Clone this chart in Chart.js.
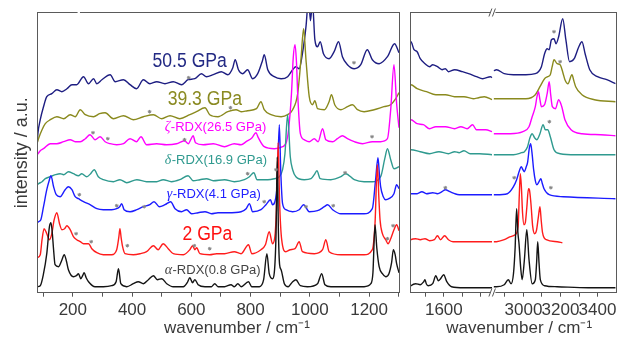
<!DOCTYPE html>
<html><head><meta charset="utf-8">
<script src="https://cdn.jsdelivr.net/npm/chart.js@4.4.1/dist/chart.umd.min.js"></script>
<style>
html,body{margin:0;padding:0;background:#fff;width:630px;height:339px;overflow:hidden;}
#wrap{position:relative;width:630px;height:339px;background:#fff;}
canvas{position:absolute;top:0;}
#cL{left:0;} #cR{left:405px;}
</style></head><body>
<div id="wrap">
<canvas id="cL" width="405" height="339"></canvas>
<canvas id="cR" width="225" height="339"></canvas>
</div>
<script>
// ---------- tick labels ----------
const tickLabelsLow  = [200, 400, 600, 800, 1000, 1200];
const tickLabelsMid  = [1600];
const tickLabelsHigh = [3000, 3200, 3400];

// ---------- spectra, low-wavenumber panel: [wavenumber, stacked intensity] ----------
const alphaLow = [[80,6],[90,7],[101,19],[112,39],[121,66],[126,70],[130,62],[135,43],[140,28],[152,26],[162,32],[171,38],[178,32],[185,23],[202,16],[212,17],[219,19],[227,14],[233,17],[238,20],[245,15],[253,11],[275,6],[303,6],[331,7],[346,11],[354,24],[362,9],[382,6],[404,9],[421,11],[438,9],[455,13],[472,17],[485,13],[500,14],[517,9],[539,6],[573,6],[586,10],[595,15],[604,10],[612,13],[623,8],[646,6],[668,6],[679,9],[690,6],[712,6],[734,8],[745,6],[757,9],[768,6],[793,11],[804,6],[830,6],[844,13],[855,39],[863,19],[874,14],[880,20],[886,60],[890,136],[894,60],[898,28],[903,23],[914,9],[927,6],[942,11],[953,13],[968,7],[992,6],[1026,9],[1040,19],[1051,8],[1071,6],[1127,6],[1183,6],[1206,9],[1213,20],[1220,68],[1226,45],[1234,26],[1245,19],[1256,16],[1267,19],[1276,30],[1282,43],[1288,38],[1293,29],[1301,20]];
const redLow = [[80,35],[90,38],[96,53],[103,64],[112,59],[121,53],[129,59],[137,73],[146,80],[155,69],[163,63],[172,64],[180,67],[191,63],[202,56],[213,53],[225,51],[236,49],[253,49],[264,44],[281,40],[303,38],[331,38],[348,43],[355,55],[359,64],[363,55],[368,46],[376,39],[404,38],[427,39],[449,41],[472,47],[488,43],[505,49],[522,44],[539,39],[573,38],[595,43],[604,47],[612,43],[618,45],[629,39],[662,38],[685,39],[712,39],[745,41],[768,39],[793,48],[804,39],[835,43],[850,48],[863,61],[874,49],[882,56],[888,90],[893,150],[898,90],[905,53],[919,41],[934,43],[950,44],[964,51],[975,41],[1015,39],[1043,43],[1054,53],[1065,41],[1105,38],[1183,38],[1211,43],[1220,69],[1228,128],[1233,95],[1237,73],[1245,59],[1256,53],[1264,49],[1273,54],[1284,63],[1293,68],[1301,62]];
const gammaLow = [[80,70],[84,71],[92,73],[101,86],[112,103],[120,112],[126,117],[135,106],[144,98],[157,96],[174,103],[185,106],[197,103],[208,96],[219,94],[236,91],[258,88],[281,84],[303,83],[331,83],[348,84],[358,86],[365,89],[373,83],[393,81],[416,83],[438,86],[460,88],[474,91],[492,86],[511,88],[530,91],[545,84],[567,81],[584,83],[601,79],[623,80],[646,81],[668,79],[690,80],[723,80],[768,81],[785,84],[796,89],[807,81],[835,83],[852,88],[867,93],[874,88],[882,91],[890,110],[897,168],[902,120],[908,89],[919,83],[942,81],[964,83],[979,88],[998,81],[1026,82],[1049,86],[1060,88],[1077,83],[1105,79],[1183,79],[1211,84],[1222,113],[1230,135],[1235,118],[1239,106],[1248,96],[1256,93],[1267,94],[1284,99],[1293,108],[1301,104]];
const deltaLow = [[80,108],[84,109],[96,111],[107,114],[124,116],[141,118],[157,119],[169,118],[185,121],[202,119],[219,117],[230,119],[247,116],[260,119],[272,123],[286,116],[303,113],[337,111],[359,113],[382,110],[416,113],[449,111],[483,111],[505,113],[533,111],[561,113],[589,117],[606,112],[629,113],[651,114],[674,112],[712,113],[745,111],[779,113],[796,116],[811,120],[822,113],[858,113],[880,114],[897,116],[908,123],[916,139],[925,178],[934,136],[942,123],[953,116],[981,113],[1004,114],[1015,118],[1024,122],[1035,114],[1071,113],[1105,116],[1121,119],[1150,113],[1183,111],[1211,111],[1239,116],[1253,134],[1262,144],[1273,133],[1284,124],[1301,126]];
const zetaLow = [[80,138],[90,142],[101,144],[124,149],[146,149],[169,151],[191,153],[208,151],[225,151],[242,154],[258,158],[275,153],[292,156],[309,151],[326,149],[348,148],[371,149],[393,154],[415,151],[430,156],[449,148],[483,149],[516,148],[550,149],[577,152],[590,149],[598,153],[606,157],[614,150],[640,148],[674,149],[712,146],[745,149],[768,148],[785,151],[805,155],[818,160],[826,155],[846,146],[880,144],[908,146],[925,156],[938,199],[944,235],[950,248],[955,230],[959,199],[968,159],[981,153],[998,151],[1015,154],[1028,151],[1043,164],[1054,153],[1077,151],[1093,154],[1110,157],[1127,154],[1150,151],[1178,149],[1211,151],[1239,151],[1262,154],[1273,183],[1284,228],[1293,189],[1301,165]];
const p39Low = [[80,150],[84,154],[96,163],[107,169],[124,173],[146,176],[169,174],[191,178],[208,176],[225,183],[242,178],[270,176],[290,179],[309,180],[337,174],[371,177],[404,173],[438,176],[472,178],[500,174],[528,177],[561,174],[595,178],[617,181],[646,185],[662,178],[690,176],[723,181],[751,183],[768,181],[790,182],[820,184],[835,191],[846,183],[869,178],[903,176],[925,178],[942,183],[959,199],[970,233],[979,264],[987,233],[998,196],[1009,188],[1017,192],[1026,184],[1049,183],[1065,191],[1073,198],[1084,188],[1105,183],[1127,186],[1144,188],[1161,183],[1183,181],[1217,183],[1250,186],[1273,188],[1290,194],[1301,200]];
const p50Low = [[80,150],[82,159],[90,173],[101,186],[112,196],[129,199],[146,203],[163,201],[180,204],[197,208],[213,208],[236,216],[253,209],[270,214],[281,209],[298,213],[326,218],[343,211],[371,213],[393,208],[415,204],[438,213],[460,209],[483,211],[511,209],[539,211],[567,208],[589,213],[612,214],[634,219],[651,216],[674,218],[701,221],[723,218],[740,225],[748,233],[759,223],[773,219],[790,223],[807,214],[824,219],[840,232],[846,238],[858,223],[880,216],[903,214],[925,216],[942,223],[953,226],[964,224],[975,239],[987,266],[996,295],[1002,272],[1009,290],[1017,253],[1026,246],[1035,251],[1046,239],[1065,234],[1082,241],[1097,251],[1110,236],[1127,228],[1150,224],[1172,228],[1194,243],[1211,233],[1234,229],[1262,236],[1286,249],[1301,240]];

// ---------- spectra, right panel (two segments of a broken axis) ----------
const alphaMid = [[1415,6],[1420,7],[1446,9],[1471,8],[1490,11],[1497,13],[1504,9],[1514,7],[1539,9],[1556,17],[1570,12],[1582,14],[1599,18],[1616,11],[1642,6],[1710,5],[1863,5]];
const alphaHigh = [[2840,6],[2854,6],[2896,8],[2918,13],[2933,9],[2946,19],[2955,45],[2963,84],[2970,60],[2976,49],[2985,25],[2993,13],[3005,33],[3018,63],[3030,33],[3047,9],[3064,13],[3071,30],[3077,51],[3084,30],[3091,13],[3114,7],[3182,6],[3350,5],[3498,5]];
const redMid = [[1415,52],[1420,53],[1446,54],[1471,53],[1497,54],[1522,52],[1548,53],[1565,57],[1582,53],[1604,57],[1625,53],[1650,51],[1710,51],[1863,51]];
const redHigh = [[2840,51],[2854,51],[2896,53],[2930,56],[2955,58],[2971,66],[2978,100],[2983,119],[2989,105],[2995,80],[3003,68],[3010,70],[3018,85],[3027,104],[3032,103],[3040,90],[3050,66],[3060,59],[3070,62],[3080,75],[3089,86],[3096,72],[3103,60],[3123,53],[3182,51],[3210,50]];
const gammaMid = [[1415,99],[1420,99],[1454,99],[1480,101],[1505,99],[1539,100],[1565,99],[1590,101],[1608,103],[1633,101],[1659,99],[1684,98],[1744,98],[1812,98],[1863,98]];
const gammaHigh = [[2840,98],[2854,98],[2913,99],[2946,106],[2963,113],[2978,122],[2988,126],[2997,123],[3005,121],[3015,126],[3022,130],[3032,145],[3039,149],[3046,140],[3055,123],[3064,112],[3072,108],[3084,111],[3094,114],[3102,109],[3111,104],[3139,98],[3215,96],[3498,94]];
const deltaMid = [[1415,143],[1420,143],[1471,141],[1522,139],[1573,141],[1625,139],[1659,141],[1684,140],[1710,142],[1744,139],[1795,139],[1863,138]];
const deltaHigh = [[2840,138],[2854,138],[2946,138],[2990,140],[3005,141],[3022,146],[3035,155],[3047,159],[3060,155],[3072,153],[3089,159],[3106,168],[3118,163],[3131,163],[3145,156],[3165,143],[3198,139],[3282,138],[3498,138]];
const zetaMid = [[1415,173],[1420,173],[1454,169],[1488,168],[1522,164],[1556,166],[1608,166],[1659,164],[1693,166],[1727,164],[1757,168],[1778,163],[1829,163],[1863,161]];
const zetaHigh = [[2840,159],[2854,159],[2929,159],[2997,161],[3030,166],[3047,176],[3064,186],[3073,196],[3081,201],[3089,193],[3097,186],[3114,188],[3128,199],[3139,211],[3147,198],[3156,186],[3173,184],[3190,193],[3207,186],[3224,173],[3257,163],[3316,159],[3417,158],[3498,157]];
const p39Mid = [[1415,208],[1420,208],[1454,204],[1505,201],[1556,198],[1608,198],[1659,196],[1710,196],[1761,194],[1790,195],[1821,196],[1863,193]];
const p39High = [[2840,194],[2854,194],[2929,194],[3013,194],[3064,198],[3089,206],[3114,214],[3131,216],[3145,218],[3155,226],[3165,233],[3182,229],[3198,228],[3213,220],[3224,213],[3240,209],[3262,218],[3272,212],[3282,206],[3316,198],[3383,193],[3498,191]];
const p50Mid = [[1415,251],[1420,251],[1437,243],[1454,241],[1471,234],[1497,229],[1522,226],[1539,228],[1565,226],[1590,223],[1608,224],[1625,221],[1659,223],[1701,221],[1735,219],[1778,216],[1812,214],[1855,216],[1863,215]];
const p50High = [[2840,222],[2854,223],[2896,219],[2946,218],[3013,218],[3064,219],[3097,226],[3114,239],[3128,244],[3139,243],[3151,253],[3165,254],[3176,249],[3190,256],[3212,274],[3229,253],[3249,231],[3274,234],[3299,246],[3316,251],[3333,239],[3358,223],[3400,216],[3450,213],[3498,209]];

// ---------- asterisk markers ----------
const starsLow = [[591,215],[1149,230],[459,181],[732,185],[268,160],[318,154],[577,153],[1210,156],[790,119],[886,123],[1119,120],[222,98],[348,87],[441,86],[846,91],[987,86],[1079,87],[211,59],[262,51],[384,47],[610,47],[662,44],[1262,54],[1281,67]];
const starsMid = [[1608,105]];
const starsHigh = [[3165,261],[3198,231],[3140,171],[2950,115],[3148,105]];

// ---------- styling ----------
const C = {p50:'#1e1e82', p39:'#8a8a1e', zeta:'#ff00ff', delta:'#2f9a8f', gamma:'#1c1cff', red:'#ff1c1c', alpha:'#141414'};
const FONT = '"Liberation Sans", Arial, Helvetica, sans-serif';
const TXT = '#3a3a3a';

const seriesLabels = [
  {greek:'', text:'50.5 GPa', color:'#232a84', at:[469,226], size:20, sx:0.88},
  {greek:'', text:'39.3 GPa', color:'#8a8a22', at:[520,188], size:20, sx:0.88},
  {greek:'ζ', text:'-RDX(26.5 GPa)', color:'#ff00ff', at:[510,162], size:13, sx:1},
  {greek:'δ', text:'-RDX(16.9 GPa)', color:'#2f9a8f', at:[510,129], size:13, sx:1},
  {greek:'γ', text:'-RDX(4.1 GPa)', color:'#2020ff', at:[517,95], size:13, sx:1},
  {greek:'', text:'2 GPa', color:'#ff1010', at:[570,53], size:20, sx:0.88},
  {greek:'α', text:'-RDX(0.8 GPa)', color:'#444444', at:[510,19], size:13, sx:1}
];

function line(data, color, xAxisID) {
  return {data: data.map(p => ({x:p[0], y:p[1]})), borderColor: color, backgroundColor: color,
    borderWidth: 1.4, pointRadius: 0, fill: false, cubicInterpolationMode: 'monotone', xAxisID, yAxisID: 'y'};
}
function stars(data, xAxisID) {
  return {type:'scatter', data: data.map(p => ({x:p[0], y:p[1]})), pointStyle:'star', pointRadius:1.8,
    borderColor:'#858585', backgroundColor:'#858585', borderWidth:1, showLine:false, xAxisID, yAxisID:'y'};
}
function xTicks(labels) {
  return {stepSize:100, includeBounds:false, autoSkip:false, maxRotation:0, minRotation:0, padding:3,
    color:TXT, font:{size:17, family:FONT}, callback: v => labels.includes(v) ? String(v) : ''};
}
const gridTicks = {display:true, drawOnChartArea:false, drawTicks:true, tickLength:4, color:'#555', lineWidth:1};

function frameRect(ctx, a) {
  const L = Math.round(a.left) + 0.5, R = Math.round(a.right) + 0.5;
  const T = Math.floor(a.top) + 0.5, B = Math.floor(a.bottom) + 0.5;
  ctx.save(); ctx.strokeStyle = '#5a5a5a'; ctx.lineWidth = 1;
  ctx.strokeRect(L, T, R - L, B - T); ctx.restore();
  return {L, R, T, B};
}

const frameLeft = {id:'frameLeft', afterDraw(chart) {
  const {ctx, chartArea:a, scales:{x}} = chart;
  const f = frameRect(ctx, a);
  const g0 = x.getPixelForValue(216), g1 = x.getPixelForValue(224);
  ctx.save(); ctx.fillStyle = '#fff'; ctx.fillRect(g0, f.T - 1.5, g1 - g0, 3); ctx.restore();
}};

const labelPlugin = {id:'seriesLabels', afterDatasetsDraw(chart) {
  const {ctx, scales:{x, y}} = chart;
  seriesLabels.forEach(l => {
    const px = x.getPixelForValue(l.at[0]), py = y.getPixelForValue(l.at[1]);
    ctx.save(); ctx.translate(px, py); ctx.scale(l.sx, 1);
    ctx.fillStyle = l.color; ctx.textBaseline = 'alphabetic'; ctx.textAlign = 'left';
    let cx = 0;
    if (l.greek) {
      ctx.font = 'italic ' + (l.size + 1) + 'px "Liberation Serif", "DejaVu Serif", serif';
      ctx.fillText(l.greek, 0, 0); cx = ctx.measureText(l.greek).width + 0.5;
    }
    ctx.font = l.size + 'px ' + FONT;
    ctx.fillText(l.text, cx, 0);
    ctx.restore();
  });
}};

const frameRight = {id:'frameRight', afterDraw(chart) {
  const {ctx, chartArea:a, scales:{x1}} = chart;
  const f = frameRect(ctx, a);
  const bx = x1.right;
  ctx.save();
  [f.T, f.B].forEach(yy => {
    ctx.fillStyle = '#fff'; ctx.fillRect(bx - 2.5, yy - 1.5, 5, 3);
    ctx.strokeStyle = '#555'; ctx.lineWidth = 1;
    ctx.beginPath();
    ctx.moveTo(bx - 4, yy + 4); ctx.lineTo(bx - 1, yy - 4);
    ctx.moveTo(bx - 0.5, yy + 4); ctx.lineTo(bx + 2.5, yy - 4);
    ctx.stroke();
  });
  ctx.restore();
}};

Chart.defaults.font.family = FONT;

new Chart(document.getElementById('cL'), {
  type: 'line',
  data: {datasets: [
    stars(starsLow, 'x'),
    line(alphaLow, C.alpha, 'x'), line(redLow, C.red, 'x'), line(gammaLow, C.gamma, 'x'),
    line(deltaLow, C.delta, 'x'), line(zetaLow, C.zeta, 'x'), line(p39Low, C.p39, 'x'), line(p50Low, C.p50, 'x')
  ]},
  options: {
    responsive: false, animation: false, events: [],
    layout: {padding: {top: 12.7, right: 6, left: 0, bottom: 0}},
    plugins: {legend: {display: false}, tooltip: {enabled: false}},
    scales: {
      x: {type: 'linear', position: 'bottom', min: 79, max: 1301,
        afterFit: s => { s.height = 46.3; },
        grid: gridTicks, border: {display: false}, ticks: xTicks(tickLabelsLow),
        title: {display: true, text: '        wavenumber / cm\u207B\u00B9', color: TXT, font: {size: 17, family: FONT}, padding: {top: 0, bottom: 0}}},
      y: {type: 'linear', min: 0, max: 280,
        afterFit: s => { s.width = 37; },
        ticks: {display: false}, grid: {display: false}, border: {display: false},
        title: {display: true, text: 'intensity / a.u.', color: TXT, font: {size: 18, family: FONT}, padding: {top: 11, bottom: 0}}}
    }
  },
  plugins: [labelPlugin, frameLeft]
});

new Chart(document.getElementById('cR'), {
  type: 'line',
  data: {datasets: [
    stars(starsMid, 'x1'), stars(starsHigh, 'x2'),
    line(alphaMid, C.alpha, 'x1'), line(alphaHigh, C.alpha, 'x2'),
    line(redMid, C.red, 'x1'), line(redHigh, C.red, 'x2'),
    line(gammaMid, C.gamma, 'x1'), line(gammaHigh, C.gamma, 'x2'),
    line(deltaMid, C.delta, 'x1'), line(deltaHigh, C.delta, 'x2'),
    line(zetaMid, C.zeta, 'x1'), line(zetaHigh, C.zeta, 'x2'),
    line(p39Mid, C.p39, 'x1'), line(p39High, C.p39, 'x2'),
    line(p50Mid, C.p50, 'x1'), line(p50High, C.p50, 'x2')
  ]},
  options: {
    responsive: false, animation: false, events: [],
    layout: {padding: {top: 12.7, right: 1, left: 4.3, bottom: 0}},
    plugins: {legend: {display: false}, tooltip: {enabled: false},
      title: {display: true, position: 'bottom', text: 'wavenumber / cm\u207B\u00B9', color: TXT,
        font: {size: 17, family: FONT, weight: 'normal'}, padding: {top: 0, bottom: 0}}},
    scales: {
      x1: {type: 'linear', position: 'bottom', stack: 'wn', stackWeight: 88.7, min: 1415, max: 1868,
        afterFit: s => { s.height = 25.9; },
        grid: gridTicks, border: {display: false}, ticks: xTicks(tickLabelsMid)},
      x2: {type: 'linear', position: 'bottom', stack: 'wn', stackWeight: 131.3, min: 2835, max: 3498,
        afterFit: s => { s.height = 25.9; },
        grid: gridTicks, border: {display: false}, ticks: xTicks(tickLabelsHigh)},
      y: {type: 'linear', display: false, min: 0, max: 280}
    }
  },
  plugins: [frameRight]
});
</script>
</body></html>
